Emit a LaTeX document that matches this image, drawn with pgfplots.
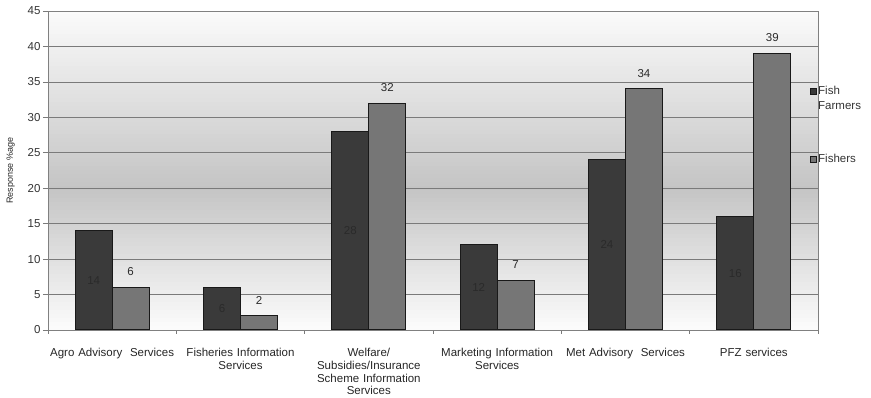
\documentclass[border=0pt]{standalone}
\usepackage{pgfplots}
\usepackage{pgfplotstable}
\pgfplotsset{compat=1.18}
\usepackage{fontspec}
\setmainfont{Liberation Sans}

\definecolor{barDark}{HTML}{3A3A3A}
\definecolor{barLight}{HTML}{767676}
\definecolor{gridGray}{HTML}{7A7A7A}
\definecolor{labelGray}{HTML}{2A2A2A}

% Response share (%) per information service
\pgfplotstableread{
x ff fi
0 14 6
1 6 2
2 28 32
3 12 7
4 24 34
5 16 39
}\servicedata

\begin{document}
\begin{tikzpicture}[x=1pt,y=1pt]
\useasboundingbox (-48,-68) rectangle (823,330);
% plot-area background: light at top and bottom, grey band in the middle
\foreach \i in {0,...,79}{
  \pgfmathsetmacro\yc{\i*4+2}
  \pgfmathsetmacro\p{\yc>142 ? max(0,23*(1-(\yc-142)/190)) : max(0,23*(1-(142-\yc)/150))}
  \pgfmathsetmacro\ytop{min(319,\i*4+4.4)}
  \fill[black!\p] (0,\i*4) rectangle (770,\ytop);
}
\begin{axis}[
  at={(0,0)}, anchor=south west,
  scale only axis, width=770pt, height=319pt,
  ymin=0, ymax=45, ytick={0,5,...,45},
  xmin=-0.5, xmax=5.5,
  xtick={0,...,5},
  xticklabels={
    {Agro Advisory\ \ Services},
    {Fisheries Information\\Services},
    {Welfare/\\Subsidies/Insurance\\Scheme Information\\Services},
    {Marketing Information\\Services},
    {Met Advisory\ \ Services},
    {PFZ services}},
  minor xtick={-0.5,0.5,...,5.5},
  xtick pos=bottom, ytick pos=left,
  major x tick style={draw=none},
  minor x tick style={draw=gridGray, line width=0.6pt},
  minor tick length=4pt,
  xticklabel style={font=\fontsize{11.5}{12.7}\selectfont, text=black!85, align=center, text width=135pt, anchor=north, yshift=-10pt},
  ytick style={draw=gridGray, line width=0.6pt},
  major tick length=5pt,
  tick align=outside,
  yticklabel style={font=\fontsize{11.5}{12}\selectfont, text=black!80, xshift=1pt},
  /pgf/number format/assume math mode=true,
  ymajorgrids,
  grid style={draw=gridGray, line width=0.7pt},
  axis line style={draw=black!50, line width=0.8pt},
  ylabel={Response \%age},
  ylabel style={font=\fontsize{9}{10}\selectfont, text=black!85, yshift=6pt},
  legend style={at={(0.986,0.782)}, anchor=north west, draw=none, fill=none,
    font=\fontsize{11.5}{15}\selectfont, text=black!80,
    row sep=56pt, nodes={inner sep=1pt},
    cells={anchor=base west},
    /tikz/every even column/.append style={column sep=0pt}},
  legend image code/.code={\draw[#1, line width=0.8pt] (0pt,-0.5pt) rectangle (6pt,5.5pt);},
]
\addplot[ybar, bar width=37pt, bar shift=-18.5pt, fill=barDark, draw=black!90, line width=1pt]
  table[x=x, y=ff] {\servicedata};
\addlegendentry{\begin{tabular}[t]{@{}l@{}}Fish\\Farmers\end{tabular}}
\addplot[ybar, bar width=37pt, bar shift=18.5pt, fill=barLight, draw=black!90, line width=1pt,
  nodes near coords,
  every node near coord/.append style={font=\fontsize{11.5}{12}\selectfont, text=labelGray, anchor=south, inner sep=0pt, xshift=18.5pt, yshift=11pt}]
  table[x=x, y=fi] {\servicedata};
\addlegendentry{Fishers}
% Fish Farmers values written at half bar height
\addplot[draw=none, forget plot, nodes near coords, point meta=\thisrow{ff},
  every node near coord/.append style={font=\fontsize{11.5}{12}\selectfont, text=labelGray, anchor=center, inner sep=0pt, xshift=-18.5pt}]
  table[x=x, y expr=\thisrow{ff}/2] {\servicedata};
\end{axis}
\end{tikzpicture}
\end{document}
